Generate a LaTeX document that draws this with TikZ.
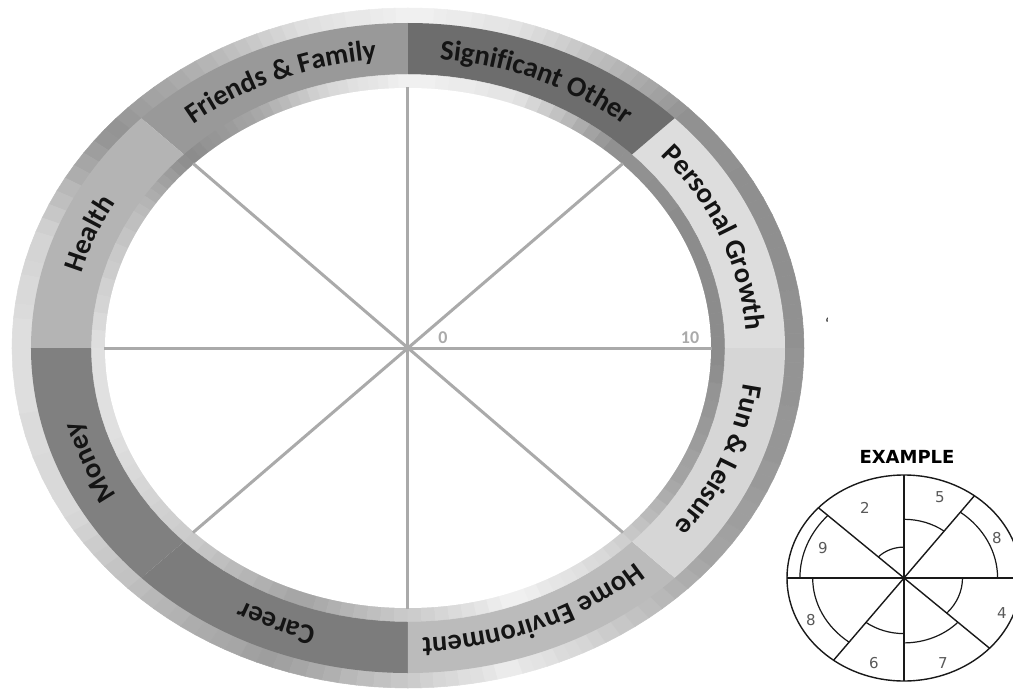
\documentclass[tikz,border=0pt]{standalone}
\usepackage{fontspec}
\setmainfont{Carlito}
\newfontfamily\dejavu{DejaVu Sans}
\newcommand\labfont{\fontsize{28.5}{32}\selectfont\bfseries}
\definecolor{spokegray}{HTML}{AAAAAA}
\definecolor{cPG}{HTML}{DDDDDD}
\definecolor{cSO}{HTML}{6D6D6D}
\definecolor{cFF}{HTML}{999999}
\definecolor{cHE}{HTML}{B4B4B4}
\definecolor{cMO}{HTML}{808080}
\definecolor{cCA}{HTML}{7C7C7C}
\definecolor{cHO}{HTML}{BBBBBB}
\definecolor{cFL}{HTML}{D6D6D6}
\newcommand\rimwedges[5]{%
  \foreach \a/\b/\ga/\gb in {#5}{%
    \foreach \i in {0,...,7}{%
      \pgfmathsetmacro\wsa{\a+(\b-\a)*\i/8}%
      \pgfmathsetmacro\wsb{\a+(\b-\a)*(\i+1)/8}%
      \pgfmathtruncatemacro\wg{\ga+(\gb-\ga)*(\i+0.5)/8}%
      \fill[white!\wg!black, draw=white!\wg!black, line width=0.5pt]
        (\wsa:#1 and #2) -- (\wsb:#1 and #2) -- (\wsb:#3 and #4) -- (\wsa:#3 and #4) -- cycle;
    }%
  }%
}
\makeatletter
\newdimen\labw
\newcommand\arclabel[4]{% #1 mid angle, #2 rx, #3 ry, #4 text
  \setbox0=\hbox{\pgfinterruptpicture\labfont #4\endpgfinterruptpicture}\labw=\wd0
  \edef\tw{\strip@pt\labw}%
  \pgfmathsetmacro\spd{100*sqrt((#2/100*sin(#1))^2+(#3/100*cos(#1))^2)}%
  \pgfmathsetmacro\tcur{#1+deg(\tw/2/\spd)}%
  \@tfor\ch:=#4\do{%
    \setbox0=\hbox{\pgfinterruptpicture\labfont\ch\endpgfinterruptpicture}\labw=\wd0
    \edef\cw{\strip@pt\labw}%
    \pgfmathsetmacro\spd{100*sqrt((#2/100*sin(\tcur))^2+(#3/100*cos(\tcur))^2)}%
    \pgfmathsetmacro\tmid{\tcur-deg(\cw/2/\spd)}%
    \pgfmathsetmacro\spd{100*sqrt((#2/100*sin(\tmid))^2+(#3/100*cos(\tmid))^2)}%
    \pgfmathsetmacro\tmid{\tcur-deg(\cw/2/\spd)}%
    \pgfmathsetmacro\rot{atan2(-#3*cos(\tmid), #2*sin(\tmid))}%
    \node[inner sep=0pt, anchor=base, rotate=\rot, text=black!92] at (\tmid:#2 and #3) {\labfont\ch};
    \pgfmathsetmacro\tcur{\tcur-deg(\cw/\spd)}%
  }%
}
\makeatother
\begin{document}
\begin{tikzpicture}[x=1pt,y=1pt,
  spokeline/.style={draw=spokegray, line width=3pt},
  exline/.style={draw=black!90, line width=1.4pt},
  exnum/.style={font=\dejavu\fontsize{15}{15}\selectfont, text=black!65, inner sep=0pt},
  scalelab/.style={font=\fontsize{18}{18}\selectfont\bfseries, text=spokegray, inner sep=0pt}]
\useasboundingbox (-408,-341) rectangle (605,348);
\fill[white] (-408,-341) rectangle (605,348);
% outer rim
\rimwedges{372}{320}{396}{340}{0/20/58/56, 20/45/56/58, 45/60/58/75, 60/75/75/90, 75/90/90/95, 90/105/95/88, 105/120/88/72, 120/140/72/58, 140/160/58/83, 160/180/83/88, 180/210/88/85, 210/230/85/72, 230/250/72/62, 250/270/62/80, 270/285/80/93, 285/300/93/82, 300/320/82/65, 320/340/65/60, 340/360/60/58}
% band segments
\foreach \a/\c in {0/cPG,45/cSO,90/cFF,135/cHE,180/cMO,225/cCA,270/cHO,315/cFL}{
  \pgfmathsetmacro\bb{\a+45}
  \fill[\c] (\a:377 and 325) arc[start angle=\a, end angle=\bb, x radius=377, y radius=325]
    -- (\bb:316 and 273) arc[start angle=\bb, end angle=\a, x radius=316, y radius=273] -- cycle;
}
% inner rim
\rimwedges{300}{257}{316.5}{273.5}{0/20/55/55, 20/50/55/58, 50/70/58/90, 70/90/90/95, 90/105/95/85, 105/120/85/65, 120/135/65/55, 135/150/55/75, 150/180/75/88, 180/200/88/88, 200/225/88/80, 225/250/80/65, 250/270/65/80, 270/290/80/95, 290/310/95/85, 310/330/85/65, 330/360/65/55}
\fill[white] (0,0) ellipse [x radius=303, y radius=260];
% spokes
\coordinate (c) at (0,0);
\foreach \a in {0,45,...,315}{ \coordinate (s\a) at (\a:304 and 261); }
\foreach \a in {0,45,...,315}{ \draw[spokeline] (c) -- (s\a); }
\node[scalelab] (zero) at (35,10) {0};
\node[scalelab] (ten) at (282,10) {10};
% labels
\arclabel{22.5}{338}{290}{Personal~Growth}
\arclabel{67.5}{338}{290}{Significant~Other}
\arclabel{112.5}{338}{290}{Friends~\&~Family}
\arclabel{157.5}{338}{290}{Health}
\arclabel{202.5}{338}{290}{Money}
\arclabel{247.5}{338}{290}{Career}
\arclabel{292.5}{338}{290}{Home~Environment}
\arclabel{337.5}{338}{290}{Fun~\&~Leisure}
\node[font=\fontsize{16}{16}\selectfont, inner sep=0pt] (tick) at (419,24) {`};
% example wheel
\begin{scope}[shift={(496,-230)}]
  \coordinate (ex) at (0,0);
  \node[font=\dejavu\bfseries\fontsize{18}{18}\selectfont, inner sep=0pt] (extitle) at (3,121) {EXAMPLE};
  \draw[exline] (ex) ellipse [x radius=117, y radius=103];
  \foreach \a in {0,53,90,137,180,233,270,317}{ \coordinate (e\a) at (\a:117 and 103); }
  \draw[exline] (e0) -- (e180);
  \draw[exline] (e90) -- (e270);
  \draw[exline] (e53) -- (e233);
  \draw[exline] (e137) -- (e317);
  \foreach \a/\bb/\rx/\ry in {90/137/35.1/30.9, 137/180/104.1/91.7, 180/233/91.3/80.3, 233/270/63.2/55.6, 270/317/73.7/64.9, 317/360/58.5/51.5, 0/53/93.6/82.4, 53/90/66.7/58.7}{
    \draw[exline, line width=1.2pt] (\a:{\rx} and {\ry}) arc[start angle=\a, end angle=\bb, x radius=\rx, y radius=\ry];
  }
  \node[exnum] (n2) at (-39,70) {2};
  \node[exnum] (n5) at (36,81) {5};
  \node[exnum] (n8a) at (93,40) {8};
  \node[exnum] (n9) at (-81,30) {9};
  \node[exnum] (n8b) at (-93,-42) {8};
  \node[exnum] (n6) at (-30,-85) {6};
  \node[exnum] (n7) at (39,-85) {7};
  \node[exnum] (n4) at (98,-35) {4};
\end{scope}
\end{tikzpicture}
\end{document}
